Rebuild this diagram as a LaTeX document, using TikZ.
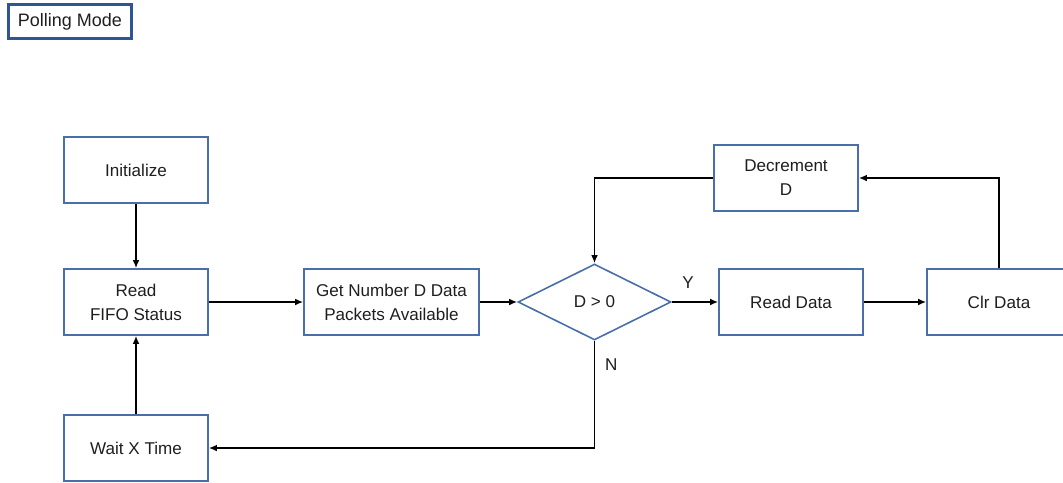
\documentclass[tikz,border=0pt]{standalone}
\usepackage{fontspec}
\setmainfont{Liberation Sans}
\usetikzlibrary{arrows.meta,shapes.geometric,positioning}
\definecolor{boxblue}{HTML}{4A6EAA}
\definecolor{titleblue}{HTML}{2F5597}
\definecolor{inkgrey}{HTML}{1E1E1E}

\begin{document}
\begin{tikzpicture}[x=0.75pt,y=-0.75pt,
    box/.style={draw=boxblue,line width=1.2pt,minimum width=108pt,minimum height=49.5pt,
      inner sep=2pt,align=center,text=inkgrey,font=\fontsize{12.8}{18}\selectfont},
    decision/.style={diamond,draw=boxblue,line width=1.2pt,minimum width=114.75pt,
      minimum height=57pt,inner sep=0pt,text=inkgrey,font=\fontsize{12.8}{18}\selectfont},
    flow/.style={-{Latex[length=6pt,width=5pt]},line width=1.3pt,draw=black},
    tag/.style={text=inkgrey,font=\fontsize{12.8}{18}\selectfont}]
    \useasboundingbox (0,0) rectangle (1063,482);
    % title
    \node[draw=titleblue,line width=2.2pt,minimum width=92.25pt,minimum height=25.5pt,
      inner sep=2pt,text=inkgrey,font=\fontsize{13.5}{18}\selectfont] (title) at (70,21.5) {Polling Mode};
    % left column
    \node[box] (init) at (136,170) {Initialize};
    \node[box] (fifo) at (136,302) {Read\\FIFO Status};
    \node[box] (wait) at (136,448) {Wait X Time};
    % main row
    \node[box,minimum width=131.25pt] (count) at (391.5,302) {Get Number D Data\\Packets Available};
    \node[decision] (check) at (594.5,302) {D > 0};
    \node[box] (readdata) at (791,302) {Read Data};
    \node[box] (clr) at (999,302) {Clr Data};
    \node[box] (decr) at (786,178) {Decrement\\D};
    % connectors
    \draw[flow] (init) -- (fifo);
    \draw[flow] (wait) -- (fifo);
    \draw[flow] (fifo) -- (count);
    \draw[flow] (count) -- (check);
    \draw[flow] (check) -- node[tag,pos=0.35,above=6pt] {Y} (readdata);
    \draw[flow] (readdata) -- (clr);
    \draw[flow] (clr.north) |- (decr.east);
    \draw[flow] (decr.west) -| (check.north);
    \draw[flow] (check.south) |- node[tag,pos=0.11,right=4pt] {N} (wait.east);
\end{tikzpicture}
\end{document}
